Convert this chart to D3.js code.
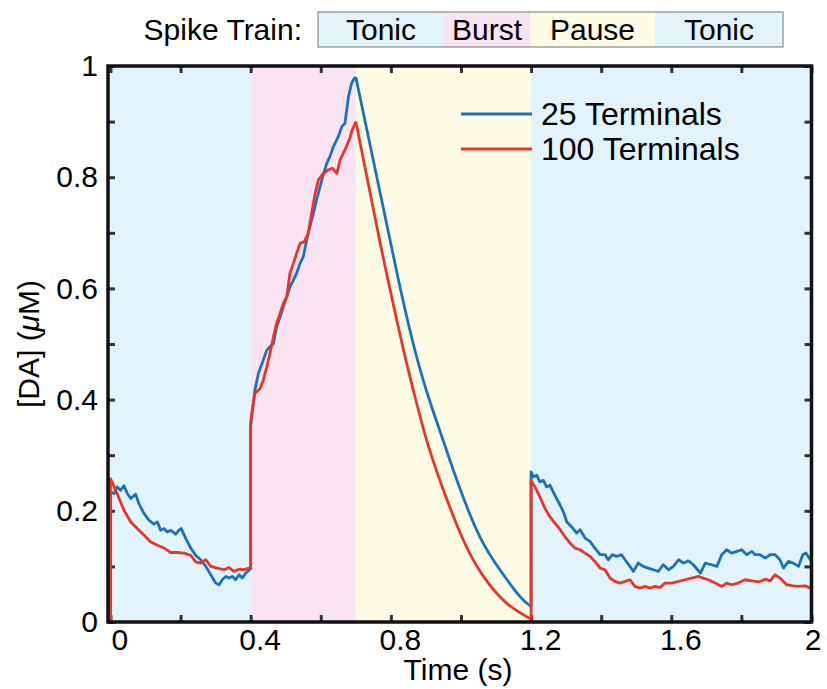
<!DOCTYPE html>
<html>
<head>
<meta charset="utf-8">
<script src="https://cdn.jsdelivr.net/npm/d3@7"></script>
<style>
  body { margin: 0; background: #fff; }
  text { font-family: "Liberation Sans", Arial, Helvetica, sans-serif; fill: #000; }
</style>
</head>
<body>
<div id="chart"></div>
<script>
// phases of the spike train
const phaseNames = ["Tonic", "Burst", "Pause", "Tonic"];
const phaseBounds = [0, 0.4, 0.7, 1.2, 2.0];

// axis ticks
const xTicks = [0, 0.2, 0.4, 0.6, 0.8, 1.0, 1.2, 1.4, 1.6, 1.8, 2.0];
const xLabels = [0, 0.4, 0.8, 1.2, 1.6, 2];
const yTicks = [0, 0.1, 0.2, 0.3, 0.4, 0.5, 0.6, 0.7, 0.8, 0.9, 1.0];
const yLabels = [0, 0.2, 0.4, 0.6, 0.8, 1];

// 25 terminals, [time s, DA uM]
const blueTonic1 = [[0,0],[0,0.234],[0.01,0.231],[0.019,0.243],[0.029,0.237],[0.0385,0.245],[0.048,0.231],[0.058,0.222],[0.072,0.23],[0.081,0.213],[0.096,0.195],[0.11,0.183],[0.124,0.176],[0.134,0.18],[0.143,0.165],[0.153,0.168],[0.162,0.162],[0.172,0.165],[0.186,0.158],[0.195,0.165],[0.202,0.168],[0.215,0.15],[0.229,0.133],[0.243,0.12],[0.257,0.112],[0.272,0.1],[0.286,0.085],[0.3,0.07],[0.31,0.067],[0.319,0.076],[0.329,0.082],[0.338,0.079],[0.348,0.082],[0.357,0.076],[0.367,0.085],[0.376,0.079],[0.386,0.088],[0.397,0.094],[0.4,0.094]];
const blueBurst = [[0.4,0.094],[0.4,0.351],[0.412,0.417],[0.422,0.447],[0.436,0.471],[0.446,0.489],[0.455,0.495],[0.465,0.501],[0.474,0.531],[0.484,0.549],[0.493,0.567],[0.503,0.585],[0.512,0.603],[0.522,0.615],[0.531,0.627],[0.541,0.645],[0.55,0.657],[0.56,0.687],[0.569,0.711],[0.579,0.735],[0.588,0.759],[0.598,0.783],[0.607,0.804],[0.617,0.825],[0.626,0.837],[0.636,0.855],[0.65,0.873],[0.66,0.891],[0.669,0.897],[0.679,0.945],[0.688,0.969],[0.696,0.978],[0.7,0.98]];
const bluePause = [[0.7,0.98],[0.76,0.8],[0.82,0.62],[0.862,0.505],[0.902,0.415],[0.95,0.325],[0.997,0.24],[1.054,0.153],[1.111,0.094],[1.168,0.046],[1.2,0.028]];
const blueTonic2 = [[1.2,0.028],[1.2,0.27],[1.206,0.261],[1.216,0.264],[1.225,0.252],[1.235,0.255],[1.244,0.243],[1.254,0.246],[1.263,0.234],[1.273,0.222],[1.283,0.21],[1.292,0.198],[1.302,0.18],[1.316,0.171],[1.33,0.16],[1.34,0.166],[1.354,0.151],[1.368,0.145],[1.382,0.133],[1.397,0.121],[1.411,0.121],[1.42,0.112],[1.432,0.121],[1.444,0.118],[1.458,0.121],[1.468,0.112],[1.482,0.1],[1.492,0.091],[1.506,0.106],[1.52,0.1],[1.534,0.097],[1.549,0.094],[1.563,0.091],[1.577,0.103],[1.592,0.094],[1.606,0.1],[1.621,0.112],[1.635,0.106],[1.649,0.11],[1.663,0.103],[1.683,0.088],[1.697,0.106],[1.715,0.103],[1.73,0.1],[1.744,0.121],[1.758,0.13],[1.772,0.124],[1.787,0.127],[1.801,0.13],[1.815,0.121],[1.83,0.127],[1.839,0.121],[1.853,0.121],[1.868,0.115],[1.882,0.121],[1.896,0.121],[1.91,0.112],[1.92,0.097],[1.934,0.109],[1.948,0.106],[1.963,0.1],[1.975,0.121],[1.984,0.124],[2.0,0.109]];

// 100 terminals
const redTonic1 = [[0,0],[0,0.258],[0.019,0.231],[0.0385,0.201],[0.058,0.18],[0.0765,0.168],[0.096,0.156],[0.115,0.144],[0.134,0.138],[0.153,0.133],[0.172,0.125],[0.191,0.125],[0.21,0.124],[0.229,0.12],[0.243,0.108],[0.257,0.106],[0.272,0.112],[0.286,0.1],[0.305,0.097],[0.324,0.094],[0.338,0.098],[0.352,0.091],[0.367,0.095],[0.381,0.094],[0.395,0.097],[0.4,0.097]];
const redBurst = [[0.4,0.097],[0.4,0.358],[0.403,0.375],[0.412,0.411],[0.427,0.42],[0.436,0.435],[0.446,0.459],[0.455,0.483],[0.465,0.513],[0.474,0.537],[0.484,0.555],[0.493,0.573],[0.503,0.585],[0.512,0.627],[0.522,0.645],[0.531,0.663],[0.541,0.681],[0.553,0.684],[0.564,0.699],[0.574,0.735],[0.584,0.771],[0.593,0.795],[0.607,0.807],[0.621,0.813],[0.633,0.816],[0.646,0.807],[0.655,0.831],[0.669,0.849],[0.683,0.87],[0.688,0.882],[0.7,0.9]];
const redPause = [[0.7,0.9],[0.77,0.68],[0.834,0.495],[0.864,0.417],[0.902,0.327],[0.95,0.237],[1.007,0.147],[1.064,0.082],[1.13,0.034],[1.2,0.005]];
const redTonic2 = [[1.2,0.005],[1.2,0.255],[1.211,0.243],[1.225,0.225],[1.24,0.204],[1.254,0.189],[1.268,0.178],[1.283,0.166],[1.297,0.153],[1.311,0.142],[1.325,0.133],[1.34,0.13],[1.354,0.124],[1.368,0.118],[1.382,0.109],[1.397,0.097],[1.411,0.094],[1.425,0.079],[1.439,0.073],[1.454,0.07],[1.468,0.073],[1.482,0.076],[1.496,0.064],[1.511,0.061],[1.525,0.064],[1.539,0.061],[1.554,0.064],[1.568,0.062],[1.582,0.07],[1.601,0.07],[1.621,0.073],[1.639,0.076],[1.658,0.079],[1.677,0.082],[1.691,0.079],[1.706,0.076],[1.725,0.07],[1.744,0.064],[1.758,0.07],[1.772,0.067],[1.791,0.07],[1.81,0.076],[1.83,0.074],[1.849,0.072],[1.868,0.077],[1.882,0.074],[1.896,0.085],[1.91,0.079],[1.929,0.067],[1.948,0.065],[1.963,0.064],[1.982,0.065],[1.996,0.061],[2.0,0.06]];

const seriesNames = ["25 Terminals", "100 Terminals"];

const width = 827, height = 689;
const phaseColor = { Tonic: "#e1f3fb", Burst: "#fbe4f2", Pause: "#fefce5" };
const blue = "#1a72bd", red = "#e8352a";

const svg = d3.select("#chart").append("svg")
  .attr("width", width)
  .attr("height", height);

const x = d3.scaleLinear().domain([-0.007, 2]).range([108, 811.5]);
const y = d3.scaleLinear().domain([0, 1]).range([622, 66]);

const plotLeft = x.range()[0], plotRight = x.range()[1];
const plotTop = y.range()[1], plotBottom = y.range()[0];

// background bands
svg.append("g").selectAll("rect")
  .data(phaseNames)
  .join("rect")
  .attr("x", (d, i) => i === 0 ? plotLeft : x(phaseBounds[i]))
  .attr("y", plotTop)
  .attr("width", (d, i) => x(phaseBounds[i + 1]) - (i === 0 ? plotLeft : x(phaseBounds[i])))
  .attr("height", plotBottom - plotTop)
  .attr("fill", d => phaseColor[d]);

svg.append("clipPath").attr("id", "plot-clip")
  .append("rect")
  .attr("x", plotLeft).attr("y", plotTop)
  .attr("width", plotRight - plotLeft).attr("height", plotBottom - plotTop);

// axes, ticks pointing inward on all four sides
function styleAxis(g) {
  g.select(".domain").remove();
  g.selectAll(".tick line").attr("stroke", "#333").attr("stroke-width", 3);
  g.selectAll(".tick text").attr("font-size", 30).attr("fill", "#000");
}

svg.append("g")
  .attr("transform", `translate(0,${plotBottom})`)
  .call(d3.axisBottom(x).tickValues(xTicks).tickSizeInner(-7).tickSizeOuter(0).tickPadding(7)
    .tickFormat(d => xLabels.some(v => Math.abs(v - d) < 1e-9) ? d3.format("~g")(d) : ""))
  .call(styleAxis)
  .call(g => g.selectAll(".tick text").attr("dx", d => d === 2 ? 1 : 9));

svg.append("g")
  .attr("transform", `translate(0,${plotTop})`)
  .call(d3.axisTop(x).tickValues(xTicks).tickSizeInner(-7).tickSizeOuter(0).tickFormat(""))
  .call(styleAxis);

svg.append("g")
  .attr("transform", `translate(${plotLeft},0)`)
  .call(d3.axisLeft(y).tickValues(yTicks).tickSizeInner(-7).tickSizeOuter(0).tickPadding(10)
    .tickFormat(d => yLabels.some(v => Math.abs(v - d) < 1e-9) ? d3.format("~g")(d) : ""))
  .call(styleAxis);

svg.append("g")
  .attr("transform", `translate(${plotRight},0)`)
  .call(d3.axisRight(y).tickValues(yTicks).tickSizeInner(-7).tickSizeOuter(0).tickFormat(""))
  .call(styleAxis);

// curves: noisy phases straight segments, the pause decay smooth
const lineJagged = d3.line().x(d => x(d[0])).y(d => y(d[1]));
const lineSmooth = d3.line().curve(d3.curveNatural).x(d => x(d[0])).y(d => y(d[1]));

const lines = svg.append("g").attr("clip-path", "url(#plot-clip)")
  .attr("fill", "none")
  .attr("stroke-width", 2.8)
  .attr("stroke-linejoin", "round");

[[blueTonic1, blueBurst, bluePause, blueTonic2, blue],
 [redTonic1, redBurst, redPause, redTonic2, red]].forEach(([t1, b, p, t2, color]) => {
  [t1, b, t2].forEach(seg => lines.append("path").datum(seg)
    .attr("stroke", color).attr("d", lineJagged));
  lines.append("path").datum(p).attr("stroke", color).attr("d", lineSmooth);
});

// frame
svg.append("rect")
  .attr("x", plotLeft).attr("y", plotTop)
  .attr("width", plotRight - plotLeft).attr("height", plotBottom - plotTop)
  .attr("fill", "none").attr("stroke", "#111").attr("stroke-width", 3.5);

// legend inside plot
const legend = svg.append("g");
[blue, red].forEach((c, i) => {
  legend.append("line")
    .attr("x1", 461).attr("x2", 532)
    .attr("y1", 114 + i * 35).attr("y2", 114 + i * 35)
    .attr("stroke", c).attr("stroke-width", 2.8);
  legend.append("text")
    .attr("x", 541).attr("y", 125 + i * 35)
    .attr("font-size", 32)
    .text(seriesNames[i]);
});

// axis titles
svg.append("text")
  .attr("x", 458).attr("y", 680)
  .attr("text-anchor", "middle")
  .attr("font-size", 30)
  .text("Time (s)");

const yTitle = svg.append("text")
  .attr("transform", "translate(39,344) rotate(-90)")
  .attr("text-anchor", "middle")
  .attr("font-size", 30);
yTitle.append("tspan").text("[DA] (");
yTitle.append("tspan").attr("font-style", "italic").text("\u03bc");
yTitle.append("tspan").text("M)");

// spike train key on top
svg.append("text")
  .attr("x", 302).attr("y", 40)
  .attr("text-anchor", "end")
  .attr("font-size", 30)
  .text("Spike Train:");

const keyEdges = [318, 444, 530, 655, 783];
const key = svg.append("g");
key.selectAll("rect")
  .data(phaseNames)
  .join("rect")
  .attr("x", (d, i) => keyEdges[i])
  .attr("y", 12)
  .attr("width", (d, i) => keyEdges[i + 1] - keyEdges[i])
  .attr("height", 35)
  .attr("fill", d => phaseColor[d]);
key.selectAll("text")
  .data(phaseNames)
  .join("text")
  .attr("x", (d, i) => (keyEdges[i] + keyEdges[i + 1]) / 2)
  .attr("y", 40)
  .attr("text-anchor", "middle")
  .attr("font-size", 30)
  .text(d => d);
key.append("rect")
  .attr("x", keyEdges[0]).attr("y", 12)
  .attr("width", keyEdges[4] - keyEdges[0]).attr("height", 35)
  .attr("fill", "none").attr("stroke", "#8a8a8a").attr("stroke-width", 1.2);
</script>
</body>
</html>
